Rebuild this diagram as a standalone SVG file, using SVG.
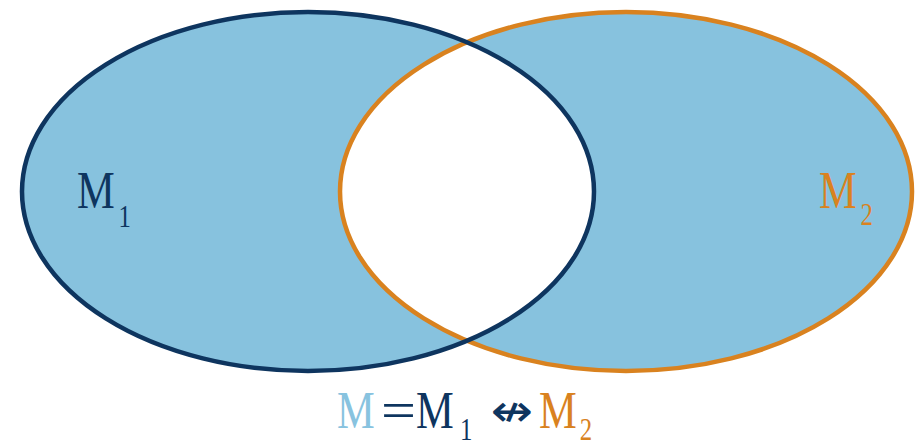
<svg xmlns="http://www.w3.org/2000/svg" width="917" height="446" viewBox="0 0 917 446">
<style>
.lbl{font-family:"Liberation Serif","DejaVu Serif",serif;font-size:53px;}
.sub{font-size:31px;}
.navy{fill:#0e355f;}
.orange{fill:#d9821f;}
.light{fill:#88c3df;}
</style>
<rect width="917" height="446" fill="#ffffff"/>
<g id="fill-region">
<path fill="#87c2de" fill-rule="evenodd" d="M22,191.5 A286,179.5 0 1,0 594,191.5 A286,179.5 0 1,0 22,191.5 Z M340,191.5 A286,179.5 0 1,0 912,191.5 A286,179.5 0 1,0 340,191.5 Z"/>
</g>
<g id="m2">
<ellipse cx="626" cy="191.5" rx="286" ry="179.5" fill="none" stroke="#d9821f" stroke-width="4.5"/>
<text class="lbl orange" transform="translate(819,0) scale(0.8,1)"><tspan x="0" y="208">M</tspan><tspan class="sub" x="52" y="225">2</tspan></text>
</g>
<g id="m1">
<ellipse cx="308" cy="191.5" rx="286" ry="179.5" fill="none" stroke="#0e355f" stroke-width="4.5"/>
<text class="lbl navy" transform="translate(77,0) scale(0.8,1)"><tspan x="0" y="208">M</tspan><tspan class="sub" x="52" y="227">1</tspan></text>
</g>
<g id="formula">
<text class="lbl light" transform="translate(337,0) scale(0.8,1)" x="0" y="428">M</text>
<text class="lbl navy" x="381" y="428" textLength="35" lengthAdjust="spacingAndGlyphs">=</text>
<text class="lbl navy" transform="translate(416,0) scale(0.8,1)"><tspan x="0" y="428">M</tspan><tspan class="sub" x="55" y="440">1</tspan></text>
<text class="navy" transform="translate(512,426) scale(1.15,1)" x="0" y="0" text-anchor="middle" font-family="DejaVu Sans, sans-serif" font-size="44">↮</text>
<text class="lbl orange" transform="translate(539,0) scale(0.8,1)"><tspan x="0" y="428">M</tspan><tspan class="sub" x="51" y="440">2</tspan></text>
</g>
</svg>
